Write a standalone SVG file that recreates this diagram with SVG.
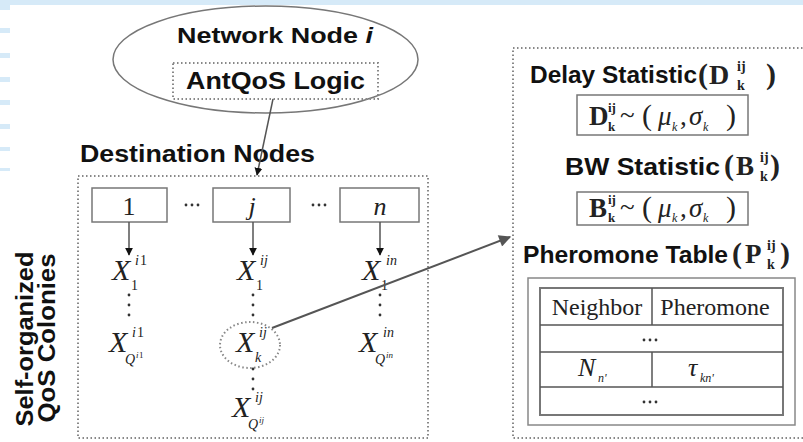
<svg xmlns="http://www.w3.org/2000/svg" width="803" height="442" viewBox="0 0 803 442">
<style>
.bg{fill:#d6eaf8}
.sans{font-family:"Liberation Sans",Arial,sans-serif;font-weight:bold;fill:#111}
.ser{font-family:"Liberation Serif","Times New Roman",serif;fill:#222}
.it{font-style:italic}
.bf{font-weight:bold}
.box{fill:#fff;stroke:#777;stroke-width:1.5}
.dot{fill:none;stroke:#888;stroke-width:2;stroke-dasharray:1.5 2.5}
.ln{stroke:#555;stroke-width:1.5;fill:none}
.vd{fill:#333}
</style>
<defs>
<marker id="ah" viewBox="0 0 10 10" refX="9" refY="5" markerWidth="8" markerHeight="9" orient="auto" markerUnits="userSpaceOnUse">
<path d="M0,0 L10,5 L0,10 z" fill="#111"/>
</marker>
<marker id="ahg" viewBox="0 0 10 10" refX="9" refY="5" markerWidth="14" markerHeight="12" orient="auto" markerUnits="userSpaceOnUse">
<path d="M0,0 L10,5 L0,10 z" fill="#555"/>
</marker>
</defs>
<rect width="803" height="442" fill="#fff"/>
<g id="background">
<rect class="bg" x="0" y="0" width="803" height="5"/>
<rect class="bg" x="0" y="5" width="10" height="5"/>
<rect class="bg" x="0" y="28" width="10" height="5"/>
<rect class="bg" x="0" y="53" width="10" height="5"/>
<rect class="bg" x="0" y="77" width="10" height="5"/>
<rect class="bg" x="0" y="100" width="10" height="5"/>
<rect class="bg" x="0" y="124" width="10" height="5"/>
<rect class="bg" x="0" y="147" width="10" height="4"/>
<rect class="bg" x="0" y="168" width="10" height="3"/>
</g>

<g id="network-node">
<ellipse cx="265.5" cy="59.5" rx="152.5" ry="53.5" fill="none" stroke="#777" stroke-width="1.5"/>
<text class="sans" x="177" y="43" font-size="22" textLength="196" lengthAdjust="spacingAndGlyphs">Network Node <tspan font-style="italic">i</tspan></text>
</g>
<g id="antqos-logic">
<rect class="dot" x="173" y="63" width="205" height="36"/>
<text class="sans" x="186" y="89" font-size="23" textLength="179" lengthAdjust="spacingAndGlyphs">AntQoS Logic</text>
</g>

<g id="destination-nodes">
<text class="sans" x="80" y="162" font-size="23" textLength="235" lengthAdjust="spacingAndGlyphs">Destination Nodes</text>
<rect class="dot" x="78" y="176" width="350" height="262"/>
</g>
<g id="colonies-label">
<text class="sans" transform="translate(33,339) rotate(-90)" text-anchor="middle" font-size="23" textLength="175" lengthAdjust="spacingAndGlyphs">Self-organized</text>
<text class="sans" transform="translate(55,338) rotate(-90)" text-anchor="middle" font-size="23" textLength="169" lengthAdjust="spacingAndGlyphs">QoS Colonies</text>
</g>

<g id="dest-1">
<rect class="box" x="92" y="188" width="75" height="34"/>
<text class="ser" x="129" y="215" font-size="26" text-anchor="middle">1</text>
</g>
<g id="dest-j">
<rect class="box" x="213" y="188" width="77" height="34"/>
<text class="ser it" x="252" y="215" font-size="26" text-anchor="middle">j</text>
</g>
<g id="dest-n">
<rect class="box" x="340" y="188" width="79" height="34"/>
<text class="ser it" x="380" y="215" font-size="26" text-anchor="middle">n</text>
</g>
<g id="dest-ellipses">
<circle class="vd" cx="186" cy="205" r="1.4"/><circle class="vd" cx="192" cy="205" r="1.4"/><circle class="vd" cx="198" cy="205" r="1.4"/>
<circle class="vd" cx="313" cy="205" r="1.4"/><circle class="vd" cx="319" cy="205" r="1.4"/><circle class="vd" cx="325" cy="205" r="1.4"/>
</g>

<g id="colony-1">
<text class="ser it" font-size="30"><tspan x="112" y="280">X</tspan><tspan x="135" y="265" font-size="14">i</tspan><tspan x="140" y="265" font-size="14" font-style="normal">1</tspan><tspan x="131" y="290" font-size="14" font-style="normal">1</tspan></text>
<circle class="vd" cx="129" cy="295" r="1.4"/><circle class="vd" cx="129" cy="305" r="1.4"/><circle class="vd" cx="129" cy="315" r="1.4"/>
<text class="ser it" font-size="30"><tspan x="109" y="352">X</tspan><tspan x="132" y="337" font-size="14">i</tspan><tspan x="137" y="337" font-size="14" font-style="normal">1</tspan><tspan x="125" y="364" font-size="14">Q</tspan><tspan x="136" y="358" font-size="9">i</tspan><tspan x="139" y="358" font-size="9" font-style="normal">1</tspan></text>
</g>

<g id="colony-j">
<text class="ser it" font-size="30"><tspan x="237" y="280">X</tspan><tspan x="260" y="265" font-size="14">ij</tspan><tspan x="256" y="290" font-size="14" font-style="normal">1</tspan></text>
<circle class="vd" cx="253" cy="295" r="1.4"/><circle class="vd" cx="253" cy="305" r="1.4"/><circle class="vd" cx="253" cy="315" r="1.4"/>
<ellipse id="colony-k-highlight" class="dot" cx="250" cy="345" rx="30" ry="23"/>
<text class="ser it" font-size="30"><tspan x="236" y="352">X</tspan><tspan x="259" y="337" font-size="14">ij</tspan><tspan x="255" y="362" font-size="14">k</tspan></text>
<circle class="vd" cx="253" cy="369" r="1.4"/><circle class="vd" cx="253" cy="379" r="1.4"/><circle class="vd" cx="253" cy="389" r="1.4"/>
<text class="ser it" font-size="30"><tspan x="232" y="417">X</tspan><tspan x="255" y="402" font-size="14">ij</tspan><tspan x="248" y="429" font-size="14">Q</tspan><tspan x="259" y="423" font-size="9">ij</tspan></text>
</g>

<g id="colony-n">
<text class="ser it" font-size="30"><tspan x="362" y="280">X</tspan><tspan x="386" y="265" font-size="14">in</tspan><tspan x="381" y="290" font-size="14" font-style="normal">1</tspan></text>
<circle class="vd" cx="380" cy="295" r="1.4"/><circle class="vd" cx="380" cy="305" r="1.4"/><circle class="vd" cx="380" cy="315" r="1.4"/>
<text class="ser it" font-size="30"><tspan x="359" y="352">X</tspan><tspan x="383" y="337" font-size="14">in</tspan><tspan x="375" y="364" font-size="14">Q</tspan><tspan x="386" y="358" font-size="9">in</tspan></text>
</g>

<g id="statistics-panel">
<rect class="dot" x="513" y="48" width="300" height="390"/>
</g>
<g id="delay-statistic">
<text class="sans" x="530" y="83" font-size="24" textLength="167" lengthAdjust="spacingAndGlyphs">Delay Statistic</text>
<text class="ser bf" fill="#111"><tspan x="698" y="84" font-size="30">(</tspan><tspan x="709" y="84" font-size="28">D</tspan><tspan x="737" y="71" font-size="14">ij</tspan><tspan x="737" y="90" font-size="14">k</tspan><tspan x="766" y="84" font-size="30">)</tspan></text>
<rect class="box" x="577" y="95" width="171" height="40"/>
<text class="ser" fill="#111" font-size="27"><tspan x="589" y="125" font-weight="bold">D</tspan><tspan x="608" y="112" font-size="13" font-weight="bold">ij</tspan><tspan x="608" y="131" font-size="13" font-weight="bold">k</tspan><tspan x="620" y="124">~</tspan><tspan x="642" y="125" font-size="30">(</tspan><tspan x="658" y="125" font-style="italic">μ</tspan><tspan x="672" y="131" font-size="12" font-style="italic">k</tspan><tspan x="680" y="125">,</tspan><tspan x="689" y="125" font-style="italic">σ</tspan><tspan x="703" y="131" font-size="12" font-style="italic">k</tspan><tspan x="726" y="125" font-size="30">)</tspan></text>
</g>
<g id="bw-statistic">
<text class="sans" x="565" y="175" font-size="24" textLength="155" lengthAdjust="spacingAndGlyphs">BW Statistic</text>
<text class="ser bf" fill="#111"><tspan x="724" y="175" font-size="30">(</tspan><tspan x="736" y="175" font-size="27">B</tspan><tspan x="760" y="162" font-size="14">ij</tspan><tspan x="760" y="181" font-size="14">k</tspan><tspan x="770" y="175" font-size="30">)</tspan></text>
<rect class="box" x="577" y="192" width="171" height="33"/>
<text class="ser" fill="#111" font-size="27"><tspan x="589" y="217" font-weight="bold">B</tspan><tspan x="608" y="204" font-size="13" font-weight="bold">ij</tspan><tspan x="608" y="222" font-size="13" font-weight="bold">k</tspan><tspan x="620" y="216">~</tspan><tspan x="642" y="217" font-size="30">(</tspan><tspan x="658" y="217" font-style="italic">μ</tspan><tspan x="672" y="222" font-size="12" font-style="italic">k</tspan><tspan x="680" y="217">,</tspan><tspan x="689" y="217" font-style="italic">σ</tspan><tspan x="703" y="222" font-size="12" font-style="italic">k</tspan><tspan x="726" y="217" font-size="30">)</tspan></text>
</g>
<g id="pheromone-table">
<text class="sans" x="523" y="263" font-size="24" textLength="205" lengthAdjust="spacingAndGlyphs">Pheromone Table</text>
<text class="ser bf" fill="#111"><tspan x="732" y="263" font-size="30">(</tspan><tspan x="745" y="263" font-size="27">P</tspan><tspan x="767" y="250" font-size="14">ij</tspan><tspan x="767" y="269" font-size="14">k</tspan><tspan x="780" y="263" font-size="30">)</tspan></text>
<rect x="528" y="278" width="267" height="147" fill="none" stroke="#888" stroke-width="1.5"/>
<rect x="540" y="288" width="243" height="127" fill="none" stroke="#777" stroke-width="2"/>
<line class="ln" x1="540" y1="325" x2="783" y2="325" stroke-width="2"/>
<line class="ln" x1="540" y1="352" x2="783" y2="352" stroke-width="2"/>
<line class="ln" x1="540" y1="387" x2="783" y2="387" stroke-width="2"/>
<line class="ln" x1="652" y1="288" x2="652" y2="325"/>
<line class="ln" x1="652" y1="352" x2="652" y2="387"/>
<text class="ser" x="597" y="315" font-size="24" text-anchor="middle" fill="#111">Neighbor</text>
<text class="ser" x="715" y="315" font-size="24" text-anchor="middle" fill="#111">Pheromone</text>
<circle class="vd" cx="644" cy="340" r="1.4"/><circle class="vd" cx="650" cy="340" r="1.4"/><circle class="vd" cx="656" cy="340" r="1.4"/>
<text class="ser it" fill="#111" font-size="26"><tspan x="578" y="376">N</tspan><tspan x="598" y="382" font-size="12">n'</tspan></text>
<text class="ser it" fill="#111" font-size="26"><tspan x="688" y="376">τ</tspan><tspan x="700" y="382" font-size="12">kn'</tspan></text>
<circle class="vd" cx="644" cy="402" r="1.4"/><circle class="vd" cx="650" cy="402" r="1.4"/><circle class="vd" cx="656" cy="402" r="1.4"/>
</g>

<g id="connectors">
<line class="ln" x1="273" y1="99" x2="257" y2="175" stroke="#222" marker-end="url(#ah)"/>
<line class="ln" x1="129" y1="222" x2="129" y2="255" stroke="#222" marker-end="url(#ah)"/>
<line class="ln" x1="253" y1="222" x2="253" y2="255" stroke="#222" marker-end="url(#ah)"/>
<line class="ln" x1="380" y1="222" x2="380" y2="255" stroke="#222" marker-end="url(#ah)"/>
<line x1="272" y1="328" x2="510" y2="237" stroke="#555" stroke-width="2" marker-end="url(#ahg)"/>
</g>
</svg>
